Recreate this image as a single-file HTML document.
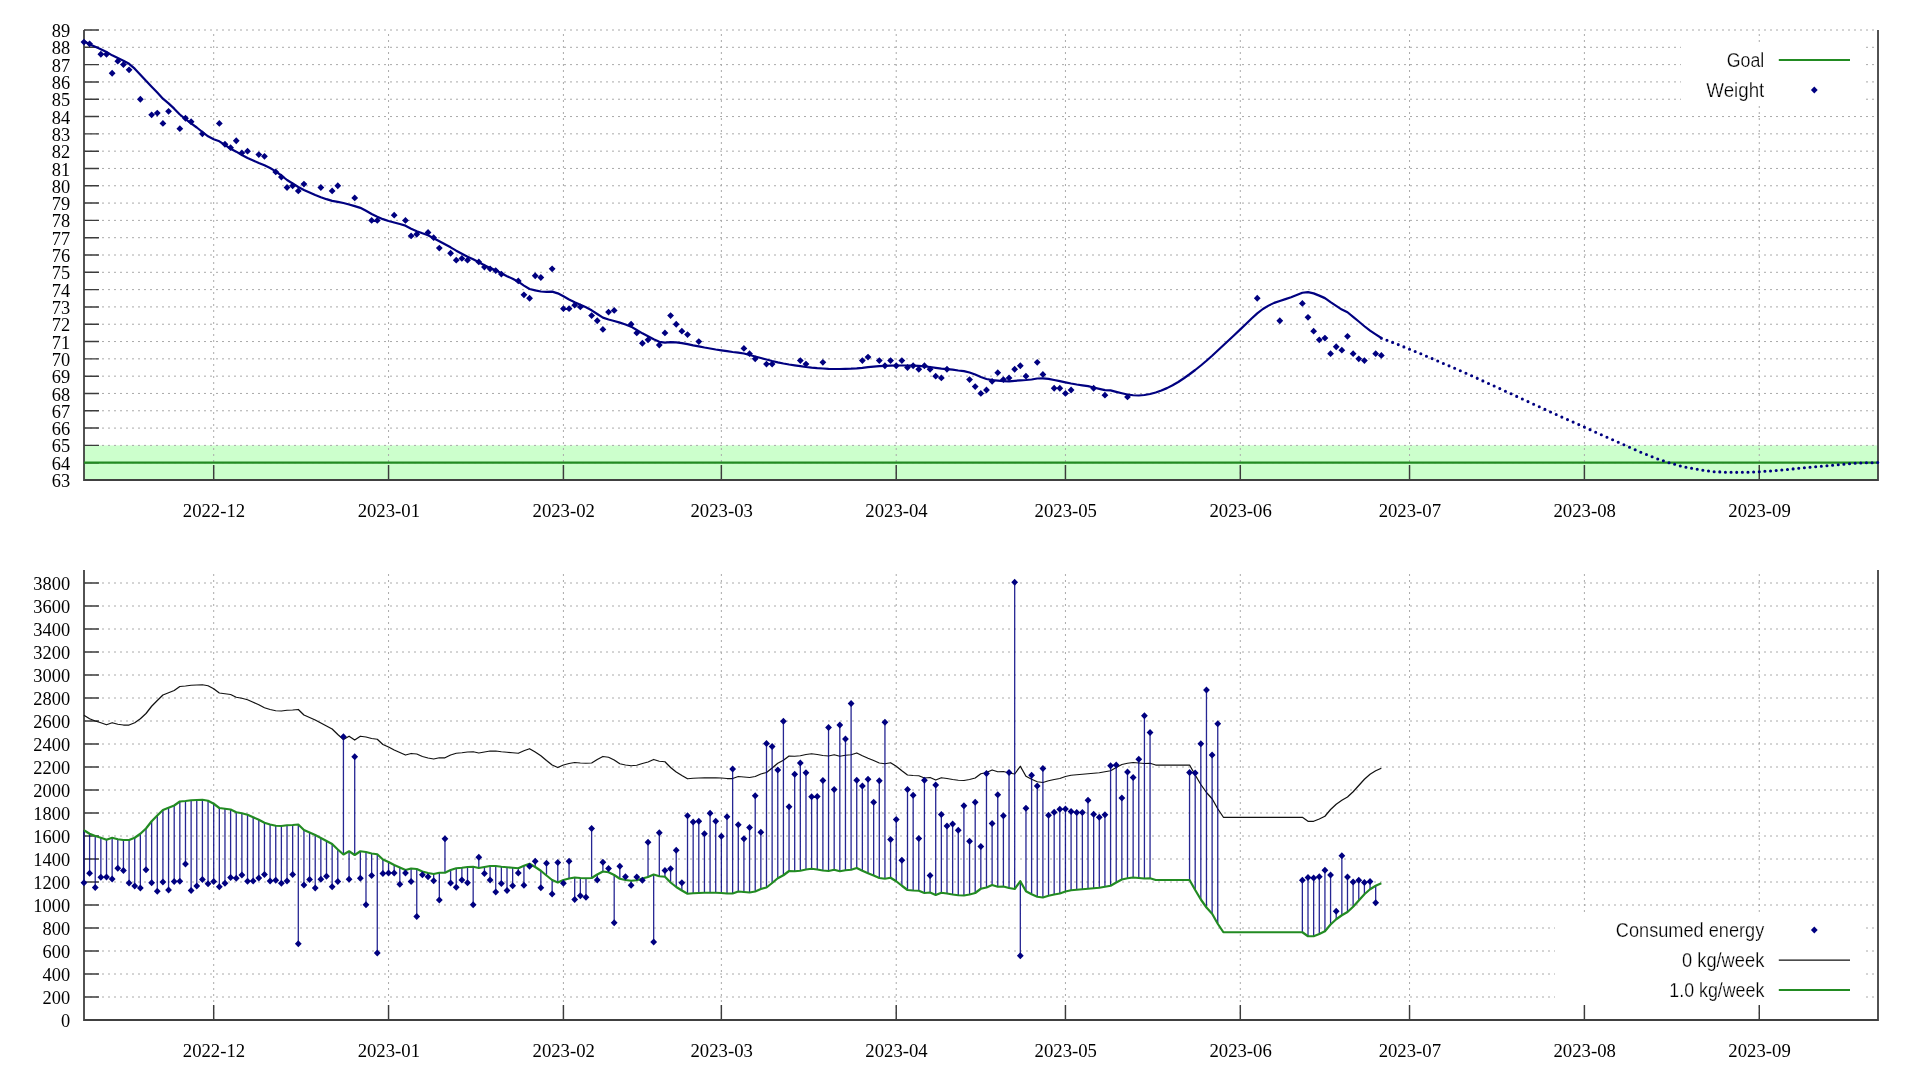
<!DOCTYPE html>
<html><head><meta charset="utf-8"><title>Weight chart</title>
<style>html,body{margin:0;padding:0;background:#fff;overflow:hidden}svg{display:block;will-change:transform}text{font-family:"Liberation Sans",sans-serif;fill:#000}.tk{font-family:"Liberation Serif",serif;font-size:19.2px}.lg{font-family:"Liberation Sans",sans-serif;font-size:19.5px;stroke:#fff;stroke-width:0.25px;paint-order:fill stroke}</style></head><body>
<svg width="1920" height="1080" viewBox="0 0 1920 1080">
<rect width="1920" height="1080" fill="#fff"/>
<rect x="84" y="445.38" width="1794" height="34.62" fill="#ccffcc"/>
<path d="M84 480H1878M84 462.69H1878M84 445.38H1878M84 428.08H1878M84 410.77H1878M84 393.46H1878M84 376.15H1878M84 358.85H1878M84 341.54H1878M84 324.23H1878M84 306.92H1878M84 289.62H1878M84 272.31H1878M84 255H1878M84 237.69H1878M84 220.38H1878M84 203.08H1878M84 185.77H1878M84 168.46H1878M84 151.15H1878M84 133.85H1878M84 116.54H1878M84 99.23H1878M84 81.92H1878M84 64.62H1878M84 47.31H1878M84 30H1878" stroke="#aaaaaa" stroke-width="1" stroke-dasharray="2 4" fill="none"/>
<path d="M213.69 480V30M388.55 480V30M563.42 480V30M721.36 480V30M896.23 480V30M1065.45 480V30M1240.31 480V30M1409.54 480V30M1584.4 480V30M1759.27 480V30" stroke="#aaaaaa" stroke-width="1" stroke-dasharray="2 4" fill="none"/>
<rect x="1681" y="45" width="181.5" height="60" fill="#fff"/>
<path d="M84 480h15M84 462.69h15M84 445.38h15M84 428.08h15M84 410.77h15M84 393.46h15M84 376.15h15M84 358.85h15M84 341.54h15M84 324.23h15M84 306.92h15M84 289.62h15M84 272.31h15M84 255h15M84 237.69h15M84 220.38h15M84 203.08h15M84 185.77h15M84 168.46h15M84 151.15h15M84 133.85h15M84 116.54h15M84 99.23h15M84 81.92h15M84 64.62h15M84 47.31h15M84 30h15M213.69 480v-15M388.55 480v-15M563.42 480v-15M721.36 480v-15M896.23 480v-15M1065.45 480v-15M1240.31 480v-15M1409.54 480v-15M1584.4 480v-15M1759.27 480v-15" stroke="#3c3c3c" stroke-width="1.45" fill="none"/>
<path d="M84 30V480H1878V30" stroke="#404040" stroke-width="1.8" fill="none" stroke-linejoin="miter"/>
<path d="M84 462.69H1878" stroke="#228B22" stroke-width="2.2" fill="none"/>
<path d="M83.95 41.33L89.59 44.17L95.23 46.67L100.87 49.17L106.51 52L112.15 55.33L117.79 58L123.44 60.67L129.08 63.83L134.72 68.67L140.36 74.67L146 80.83L151.64 86.67L157.28 92.5L162.92 98.67L168.56 103.33L174.2 108.67L179.84 114.5L185.48 119.17L191.13 123.33L196.77 127.5L202.41 132L208.05 136.33L213.69 139.17L219.33 141.33L224.97 145L230.61 148.67L236.25 151.67L241.89 155L247.53 158L253.17 160.5L258.81 163L264.46 165.33L270.1 168L275.74 171.33L281.38 175.5L287.02 180L292.66 183.5L298.3 187L303.94 190L309.58 192.5L315.22 195L320.86 197.17L326.5 199.17L332.15 200.83L337.79 201.83L343.43 203L349.07 204.5L354.71 206.17L360.35 207.83L365.99 210.83L371.63 214L377.27 216.67L382.91 219.17L388.55 221L394.19 222.5L399.83 224L405.48 225.67L411.12 228.67L416.76 231.17L422.4 233.33L428.04 235.33L433.68 238.33L439.32 241.33L444.96 244.33L450.6 247.33L456.24 250.67L461.88 253.67L467.52 256.67L473.17 259.33L478.81 262.33L484.45 265.33L490.09 268L495.73 270.33L501.37 273.33L507.01 276.17L512.65 278.67L518.29 281.67L523.93 285.67L529.57 289L535.21 290.33L540.85 291.5L546.5 291.83L552.14 291.67L557.78 293.33L563.42 296.33L569.06 299.5L574.7 302.17L580.34 304.67L585.98 307.33L591.62 310.33L597.26 314L602.9 317.67L608.54 319.5L614.19 321L619.83 322.67L625.47 324.5L631.11 326.67L636.75 330L642.39 333.33L648.03 336.33L653.67 339.33L659.31 341.83L664.95 342.67L670.59 342.17L676.23 342.33L681.87 343.17L687.52 344.17L693.16 345.33L698.8 346.33L704.44 347.5L710.08 348.5L715.72 349.5L721.36 350.33L727 351.17L732.64 352L738.28 352.67L743.92 353.5L749.56 355L755.21 356.5L760.85 358L766.49 359.5L772.13 361L777.77 362.33L783.41 363.5L789.05 364.5L794.69 365.33L800.33 366.17L805.97 367L811.61 367.67L817.25 368.17L822.89 368.5L828.54 368.83L834.18 369L839.82 369L845.46 368.83L851.1 368.67L856.74 368.33L862.38 367.83L868.02 367.17L873.66 366.67L879.3 366.17L884.94 365.83L890.58 365.67L896.23 365.5L901.87 365.5L907.51 365.5L913.15 365.67L918.79 365.83L924.43 366.33L930.07 367L935.71 367.83L941.35 368.67L946.99 369.17L952.63 369.67L958.27 370.5L963.91 371.17L969.56 372.5L975.2 374.5L980.84 377L986.48 379L992.12 380.17L997.76 380.67L1003.4 381.17L1009.04 381.33L1014.68 380.83L1020.32 380.33L1025.96 380L1031.6 379.5L1037.25 378.5L1042.89 378.33L1048.53 378.83L1054.17 380L1059.81 381.17L1065.45 382.33L1071.09 383.5L1076.73 384.5L1082.37 385.33L1088.01 386.17L1093.65 387.5L1099.29 388.83L1104.93 390.17L1110.58 390.38L1116.22 391.88L1121.86 393.25L1127.5 394.5L1133.14 395.25L1138.78 395.5L1144.42 395L1150.06 394L1155.7 392.5L1161.34 390.5L1166.98 388.12L1172.62 385.25L1178.27 382L1183.91 378.25L1189.55 374.25L1195.19 370L1200.83 365.5L1206.47 360.75L1212.11 355.75L1217.75 350.5L1223.39 345.25L1229.03 340L1234.67 334.75L1240.31 329.38L1245.95 324L1251.6 318.5L1257.24 313.38L1262.88 309L1268.52 305.62L1274.16 302.88L1279.8 301L1285.44 299.12L1291.08 297.25L1296.72 295L1302.36 292.75L1308 292.12L1313.64 293.38L1319.29 295.62L1324.93 298.12L1330.57 302.12L1336.21 305.88L1341.85 309.62L1347.49 312.25L1353.13 316.88L1358.77 321.5L1364.41 326.25L1370.05 330.62L1375.69 334.38L1381.33 338" stroke="#000080" stroke-width="2.2" fill="none" stroke-linejoin="round" stroke-linecap="round"/>
<path d="M1381.33 338.3h0M1386.97 340.2h0M1392.62 342.4h0M1398.26 344.6h0M1403.9 346.9h0M1409.54 349.2h0M1415.18 351.5h0M1420.82 353.8h0M1426.46 356.2h0M1432.1 358.6h0M1437.74 361h0M1443.38 363.43h0M1449.02 365.87h0M1454.66 368.3h0M1460.31 370.75h0M1465.95 373.2h0M1471.59 375.77h0M1477.23 378.33h0M1482.87 380.9h0M1488.51 383.45h0M1494.15 386h0M1499.79 388.6h0M1505.43 391.2h0M1511.07 393.8h0M1516.71 396.4h0M1522.35 399h0M1527.99 401.6h0M1533.64 404.2h0M1539.28 406.8h0M1544.92 409.4h0M1550.56 412h0M1556.2 414.55h0M1561.84 417.1h0M1567.48 419.6h0M1573.12 422.1h0M1578.76 424.6h0M1584.4 427.1h0M1590.04 429.65h0M1595.68 432.2h0M1601.33 434.75h0M1606.97 437.3h0M1612.61 439.8h0M1618.25 442.3h0M1623.89 444.8h0M1629.53 447.3h0M1635.17 449.75h0M1640.81 452.2h0M1646.45 454.5h0M1652.09 456.8h0M1657.73 459h0M1663.37 460.8h0M1669.01 462.7h0M1674.66 464.3h0M1680.3 466h0M1685.94 467.3h0M1691.58 468.3h0M1697.22 469.3h0M1702.86 470.3h0M1708.5 471h0M1714.14 471.7h0M1719.78 471.9h0M1725.42 472.2h0M1731.06 472.3h0M1736.7 472.35h0M1742.35 472.3h0M1747.99 472.2h0M1753.63 472h0M1759.27 471.7h0M1764.91 471.3h0M1770.55 471h0M1776.19 470.5h0M1781.83 470h0M1787.47 469.5h0M1793.11 468.9h0M1798.75 468.3h0M1804.39 467.8h0M1810.03 467.3h0M1815.68 466.8h0M1821.32 466.3h0M1826.96 465.8h0M1832.6 465.3h0M1838.24 464.7h0M1843.88 464.2h0M1849.52 463.7h0M1855.16 463.3h0M1860.8 463h0M1866.44 462.8h0M1872.08 462.7h0M1877.72 462.5h0" stroke="#000080" stroke-width="3.1" stroke-linecap="round" fill="none"/>
<path d="M83.95 38.72L87.35 42.12L83.95 45.52L80.55 42.12ZM89.59 40.45L92.99 43.85L89.59 47.25L86.19 43.85ZM100.87 50.83L104.27 54.23L100.87 57.63L97.47 54.23ZM106.51 50.83L109.91 54.23L106.51 57.63L103.11 54.23ZM112.15 69.87L115.55 73.27L112.15 76.67L108.75 73.27ZM117.79 57.75L121.19 61.15L117.79 64.55L114.39 61.15ZM123.44 61.22L126.84 64.62L123.44 68.02L120.04 64.62ZM129.08 66.41L132.48 69.81L129.08 73.21L125.68 69.81ZM140.36 95.83L143.76 99.23L140.36 102.63L136.96 99.23ZM151.64 111.41L155.04 114.81L151.64 118.21L148.24 114.81ZM157.28 109.68L160.68 113.08L157.28 116.48L153.88 113.08ZM162.92 120.06L166.32 123.46L162.92 126.86L159.52 123.46ZM168.56 107.95L171.96 111.35L168.56 114.75L165.16 111.35ZM179.84 125.25L183.24 128.65L179.84 132.05L176.44 128.65ZM185.48 114.87L188.88 118.27L185.48 121.67L182.08 118.27ZM191.13 118.33L194.53 121.73L191.13 125.13L187.73 121.73ZM202.41 130.45L205.81 133.85L202.41 137.25L199.01 133.85ZM219.33 120.06L222.73 123.46L219.33 126.86L215.93 123.46ZM224.97 140.83L228.37 144.23L224.97 147.63L221.57 144.23ZM230.61 144.29L234.01 147.69L230.61 151.09L227.21 147.69ZM236.25 137.37L239.65 140.77L236.25 144.17L232.85 140.77ZM241.89 149.48L245.29 152.88L241.89 156.28L238.49 152.88ZM247.53 147.75L250.93 151.15L247.53 154.55L244.13 151.15ZM258.81 151.22L262.21 154.62L258.81 158.02L255.41 154.62ZM264.46 152.95L267.86 156.35L264.46 159.75L261.06 156.35ZM275.74 168.52L279.14 171.92L275.74 175.32L272.34 171.92ZM281.38 173.72L284.78 177.12L281.38 180.52L277.98 177.12ZM287.02 184.1L290.42 187.5L287.02 190.9L283.62 187.5ZM292.66 182.37L296.06 185.77L292.66 189.17L289.26 185.77ZM298.3 187.56L301.7 190.96L298.3 194.36L294.9 190.96ZM303.94 180.64L307.34 184.04L303.94 187.44L300.54 184.04ZM320.86 184.1L324.26 187.5L320.86 190.9L317.46 187.5ZM332.15 187.56L335.55 190.96L332.15 194.36L328.75 190.96ZM337.79 182.37L341.19 185.77L337.79 189.17L334.39 185.77ZM354.71 194.48L358.11 197.88L354.71 201.28L351.31 197.88ZM371.63 216.98L375.03 220.38L371.63 223.78L368.23 220.38ZM377.27 216.98L380.67 220.38L377.27 223.78L373.87 220.38ZM394.19 211.79L397.59 215.19L394.19 218.59L390.79 215.19ZM405.48 216.98L408.88 220.38L405.48 223.78L402.08 220.38ZM411.12 232.56L414.52 235.96L411.12 239.36L407.72 235.96ZM416.76 230.83L420.16 234.23L416.76 237.63L413.36 234.23ZM428.04 229.1L431.44 232.5L428.04 235.9L424.64 232.5ZM433.68 234.29L437.08 237.69L433.68 241.09L430.28 237.69ZM439.32 244.68L442.72 248.08L439.32 251.48L435.92 248.08ZM450.6 249.87L454 253.27L450.6 256.67L447.2 253.27ZM456.24 256.79L459.64 260.19L456.24 263.59L452.84 260.19ZM461.88 255.06L465.28 258.46L461.88 261.86L458.48 258.46ZM467.52 256.79L470.92 260.19L467.52 263.59L464.12 260.19ZM478.81 258.52L482.21 261.92L478.81 265.32L475.41 261.92ZM484.45 263.72L487.85 267.12L484.45 270.52L481.05 267.12ZM490.09 265.45L493.49 268.85L490.09 272.25L486.69 268.85ZM495.73 267.18L499.13 270.58L495.73 273.98L492.33 270.58ZM501.37 270.64L504.77 274.04L501.37 277.44L497.97 274.04ZM518.29 277.56L521.69 280.96L518.29 284.36L514.89 280.96ZM523.93 291.41L527.33 294.81L523.93 298.21L520.53 294.81ZM529.57 294.87L532.97 298.27L529.57 301.67L526.17 298.27ZM535.21 272.37L538.61 275.77L535.21 279.17L531.81 275.77ZM540.85 274.1L544.25 277.5L540.85 280.9L537.45 277.5ZM552.14 265.45L555.54 268.85L552.14 272.25L548.74 268.85ZM563.42 305.25L566.82 308.65L563.42 312.05L560.02 308.65ZM569.06 305.25L572.46 308.65L569.06 312.05L565.66 308.65ZM574.7 301.79L578.1 305.19L574.7 308.59L571.3 305.19ZM580.34 303.52L583.74 306.92L580.34 310.32L576.94 306.92ZM591.62 312.18L595.02 315.58L591.62 318.98L588.22 315.58ZM597.26 317.37L600.66 320.77L597.26 324.17L593.86 320.77ZM602.9 326.02L606.3 329.42L602.9 332.82L599.5 329.42ZM608.54 308.72L611.94 312.12L608.54 315.52L605.14 312.12ZM614.19 306.98L617.59 310.38L614.19 313.78L610.79 310.38ZM631.11 320.83L634.51 324.23L631.11 327.63L627.71 324.23ZM636.75 329.48L640.15 332.88L636.75 336.28L633.35 332.88ZM642.39 339.87L645.79 343.27L642.39 346.67L638.99 343.27ZM648.03 336.41L651.43 339.81L648.03 343.21L644.63 339.81ZM659.31 341.6L662.71 345L659.31 348.4L655.91 345ZM664.95 329.48L668.35 332.88L664.95 336.28L661.55 332.88ZM670.59 312.18L673.99 315.58L670.59 318.98L667.19 315.58ZM676.23 320.83L679.63 324.23L676.23 327.63L672.83 324.23ZM681.87 327.75L685.27 331.15L681.87 334.55L678.47 331.15ZM687.52 331.22L690.92 334.62L687.52 338.02L684.12 334.62ZM698.8 338.14L702.2 341.54L698.8 344.94L695.4 341.54ZM743.92 345.06L747.32 348.46L743.92 351.86L740.52 348.46ZM749.56 350.25L752.96 353.65L749.56 357.05L746.16 353.65ZM755.21 355.45L758.61 358.85L755.21 362.25L751.81 358.85ZM766.49 360.64L769.89 364.04L766.49 367.44L763.09 364.04ZM772.13 360.64L775.53 364.04L772.13 367.44L768.73 364.04ZM800.33 357.18L803.73 360.58L800.33 363.98L796.93 360.58ZM805.97 360.64L809.37 364.04L805.97 367.44L802.57 364.04ZM822.89 358.91L826.29 362.31L822.89 365.71L819.49 362.31ZM862.38 357.18L865.78 360.58L862.38 363.98L858.98 360.58ZM868.02 353.72L871.42 357.12L868.02 360.52L864.62 357.12ZM879.3 357.18L882.7 360.58L879.3 363.98L875.9 360.58ZM884.94 362.37L888.34 365.77L884.94 369.17L881.54 365.77ZM890.58 357.18L893.98 360.58L890.58 363.98L887.18 360.58ZM896.23 362.37L899.63 365.77L896.23 369.17L892.83 365.77ZM901.87 357.18L905.27 360.58L901.87 363.98L898.47 360.58ZM907.51 364.1L910.91 367.5L907.51 370.9L904.11 367.5ZM913.15 362.37L916.55 365.77L913.15 369.17L909.75 365.77ZM918.79 365.83L922.19 369.23L918.79 372.63L915.39 369.23ZM924.43 362.37L927.83 365.77L924.43 369.17L921.03 365.77ZM930.07 365.83L933.47 369.23L930.07 372.63L926.67 369.23ZM935.71 372.75L939.11 376.15L935.71 379.55L932.31 376.15ZM941.35 374.48L944.75 377.88L941.35 381.28L937.95 377.88ZM946.99 365.83L950.39 369.23L946.99 372.63L943.59 369.23ZM969.56 376.22L972.96 379.62L969.56 383.02L966.16 379.62ZM975.2 383.14L978.6 386.54L975.2 389.94L971.8 386.54ZM980.84 390.06L984.24 393.46L980.84 396.86L977.44 393.46ZM986.48 386.6L989.88 390L986.48 393.4L983.08 390ZM992.12 377.95L995.52 381.35L992.12 384.75L988.72 381.35ZM997.76 369.29L1001.16 372.69L997.76 376.09L994.36 372.69ZM1003.4 376.22L1006.8 379.62L1003.4 383.02L1000 379.62ZM1009.04 374.48L1012.44 377.88L1009.04 381.28L1005.64 377.88ZM1014.68 365.83L1018.08 369.23L1014.68 372.63L1011.28 369.23ZM1020.32 362.37L1023.72 365.77L1020.32 369.17L1016.92 365.77ZM1025.96 372.75L1029.36 376.15L1025.96 379.55L1022.56 376.15ZM1037.25 358.91L1040.65 362.31L1037.25 365.71L1033.85 362.31ZM1042.89 371.02L1046.29 374.42L1042.89 377.82L1039.49 374.42ZM1054.17 384.87L1057.57 388.27L1054.17 391.67L1050.77 388.27ZM1059.81 384.87L1063.21 388.27L1059.81 391.67L1056.41 388.27ZM1065.45 390.06L1068.85 393.46L1065.45 396.86L1062.05 393.46ZM1071.09 386.6L1074.49 390L1071.09 393.4L1067.69 390ZM1093.65 384.87L1097.05 388.27L1093.65 391.67L1090.25 388.27ZM1104.93 391.79L1108.33 395.19L1104.93 398.59L1101.53 395.19ZM1127.5 393.52L1130.9 396.92L1127.5 400.32L1124.1 396.92ZM1257.24 294.87L1260.64 298.27L1257.24 301.67L1253.84 298.27ZM1279.8 317.37L1283.2 320.77L1279.8 324.17L1276.4 320.77ZM1302.36 300.06L1305.76 303.46L1302.36 306.86L1298.96 303.46ZM1308 313.91L1311.4 317.31L1308 320.71L1304.6 317.31ZM1313.64 327.75L1317.04 331.15L1313.64 334.55L1310.24 331.15ZM1319.29 336.41L1322.69 339.81L1319.29 343.21L1315.89 339.81ZM1324.93 334.68L1328.33 338.08L1324.93 341.48L1321.53 338.08ZM1330.57 350.25L1333.97 353.65L1330.57 357.05L1327.17 353.65ZM1336.21 343.33L1339.61 346.73L1336.21 350.13L1332.81 346.73ZM1341.85 346.79L1345.25 350.19L1341.85 353.59L1338.45 350.19ZM1347.49 332.95L1350.89 336.35L1347.49 339.75L1344.09 336.35ZM1353.13 350.25L1356.53 353.65L1353.13 357.05L1349.73 353.65ZM1358.77 355.45L1362.17 358.85L1358.77 362.25L1355.37 358.85ZM1364.41 357.18L1367.81 360.58L1364.41 363.98L1361.01 360.58ZM1375.69 350.25L1379.09 353.65L1375.69 357.05L1372.29 353.65ZM1381.33 351.98L1384.73 355.38L1381.33 358.78L1377.93 355.38Z" fill="#000080"/>
<text class="tk" x="70.1" y="487.1" text-anchor="end" textLength="18.4" lengthAdjust="spacingAndGlyphs">63</text>
<text class="tk" x="70.1" y="469.79" text-anchor="end" textLength="18.4" lengthAdjust="spacingAndGlyphs">64</text>
<text class="tk" x="70.1" y="452.48" text-anchor="end" textLength="18.4" lengthAdjust="spacingAndGlyphs">65</text>
<text class="tk" x="70.1" y="435.18" text-anchor="end" textLength="18.4" lengthAdjust="spacingAndGlyphs">66</text>
<text class="tk" x="70.1" y="417.87" text-anchor="end" textLength="18.4" lengthAdjust="spacingAndGlyphs">67</text>
<text class="tk" x="70.1" y="400.56" text-anchor="end" textLength="18.4" lengthAdjust="spacingAndGlyphs">68</text>
<text class="tk" x="70.1" y="383.25" text-anchor="end" textLength="18.4" lengthAdjust="spacingAndGlyphs">69</text>
<text class="tk" x="70.1" y="365.95" text-anchor="end" textLength="18.4" lengthAdjust="spacingAndGlyphs">70</text>
<text class="tk" x="70.1" y="348.64" text-anchor="end" textLength="18.4" lengthAdjust="spacingAndGlyphs">71</text>
<text class="tk" x="70.1" y="331.33" text-anchor="end" textLength="18.4" lengthAdjust="spacingAndGlyphs">72</text>
<text class="tk" x="70.1" y="314.02" text-anchor="end" textLength="18.4" lengthAdjust="spacingAndGlyphs">73</text>
<text class="tk" x="70.1" y="296.72" text-anchor="end" textLength="18.4" lengthAdjust="spacingAndGlyphs">74</text>
<text class="tk" x="70.1" y="279.41" text-anchor="end" textLength="18.4" lengthAdjust="spacingAndGlyphs">75</text>
<text class="tk" x="70.1" y="262.1" text-anchor="end" textLength="18.4" lengthAdjust="spacingAndGlyphs">76</text>
<text class="tk" x="70.1" y="244.79" text-anchor="end" textLength="18.4" lengthAdjust="spacingAndGlyphs">77</text>
<text class="tk" x="70.1" y="227.48" text-anchor="end" textLength="18.4" lengthAdjust="spacingAndGlyphs">78</text>
<text class="tk" x="70.1" y="210.18" text-anchor="end" textLength="18.4" lengthAdjust="spacingAndGlyphs">79</text>
<text class="tk" x="70.1" y="192.87" text-anchor="end" textLength="18.4" lengthAdjust="spacingAndGlyphs">80</text>
<text class="tk" x="70.1" y="175.56" text-anchor="end" textLength="18.4" lengthAdjust="spacingAndGlyphs">81</text>
<text class="tk" x="70.1" y="158.25" text-anchor="end" textLength="18.4" lengthAdjust="spacingAndGlyphs">82</text>
<text class="tk" x="70.1" y="140.95" text-anchor="end" textLength="18.4" lengthAdjust="spacingAndGlyphs">83</text>
<text class="tk" x="70.1" y="123.64" text-anchor="end" textLength="18.4" lengthAdjust="spacingAndGlyphs">84</text>
<text class="tk" x="70.1" y="106.33" text-anchor="end" textLength="18.4" lengthAdjust="spacingAndGlyphs">85</text>
<text class="tk" x="70.1" y="89.02" text-anchor="end" textLength="18.4" lengthAdjust="spacingAndGlyphs">86</text>
<text class="tk" x="70.1" y="71.72" text-anchor="end" textLength="18.4" lengthAdjust="spacingAndGlyphs">87</text>
<text class="tk" x="70.1" y="54.41" text-anchor="end" textLength="18.4" lengthAdjust="spacingAndGlyphs">88</text>
<text class="tk" x="70.1" y="37.1" text-anchor="end" textLength="18.4" lengthAdjust="spacingAndGlyphs">89</text>
<text class="tk" x="213.99" y="517" text-anchor="middle" textLength="62.4" lengthAdjust="spacingAndGlyphs">2022-12</text>
<text class="tk" x="388.85" y="517" text-anchor="middle" textLength="62.4" lengthAdjust="spacingAndGlyphs">2023-01</text>
<text class="tk" x="563.72" y="517" text-anchor="middle" textLength="62.4" lengthAdjust="spacingAndGlyphs">2023-02</text>
<text class="tk" x="721.66" y="517" text-anchor="middle" textLength="62.4" lengthAdjust="spacingAndGlyphs">2023-03</text>
<text class="tk" x="896.53" y="517" text-anchor="middle" textLength="62.4" lengthAdjust="spacingAndGlyphs">2023-04</text>
<text class="tk" x="1065.75" y="517" text-anchor="middle" textLength="62.4" lengthAdjust="spacingAndGlyphs">2023-05</text>
<text class="tk" x="1240.61" y="517" text-anchor="middle" textLength="62.4" lengthAdjust="spacingAndGlyphs">2023-06</text>
<text class="tk" x="1409.84" y="517" text-anchor="middle" textLength="62.4" lengthAdjust="spacingAndGlyphs">2023-07</text>
<text class="tk" x="1584.7" y="517" text-anchor="middle" textLength="62.4" lengthAdjust="spacingAndGlyphs">2023-08</text>
<text class="tk" x="1759.57" y="517" text-anchor="middle" textLength="62.4" lengthAdjust="spacingAndGlyphs">2023-09</text>
<text class="lg" x="1764.3" y="67" text-anchor="end" textLength="37.5" lengthAdjust="spacingAndGlyphs">Goal</text>
<path d="M1778.8 60H1850" stroke="#228B22" stroke-width="2.2"/>
<text class="lg" x="1764.3" y="96.6" text-anchor="end" textLength="58" lengthAdjust="spacingAndGlyphs">Weight</text>
<path d="M1814.3 86.6L1817.7 90L1814.3 93.4L1810.9 90Z" fill="#000080"/>
<path d="M84 1020H1878M84 997H1878M84 974H1878M84 951H1878M84 928H1878M84 905H1878M84 882H1878M84 859H1878M84 836H1878M84 813H1878M84 790H1878M84 767H1878M84 744H1878M84 721H1878M84 698H1878M84 675H1878M84 652H1878M84 629H1878M84 606H1878M84 583H1878" stroke="#aaaaaa" stroke-width="1" stroke-dasharray="2 4" fill="none"/>
<path d="M213.69 1020V570M388.55 1020V570M563.42 1020V570M721.36 1020V570M896.23 1020V570M1065.45 1020V570M1240.31 1020V570M1409.54 1020V570M1584.4 1020V570M1759.27 1020V570" stroke="#aaaaaa" stroke-width="1" stroke-dasharray="2 4" fill="none"/>
<rect x="1555" y="915" width="307.5" height="90" fill="#fff"/>
<path d="M84 1020h15M84 997h15M84 974h15M84 951h15M84 928h15M84 905h15M84 882h15M84 859h15M84 836h15M84 813h15M84 790h15M84 767h15M84 744h15M84 721h15M84 698h15M84 675h15M84 652h15M84 629h15M84 606h15M84 583h15M213.69 1020v-15M388.55 1020v-15M563.42 1020v-15M721.36 1020v-15M896.23 1020v-15M1065.45 1020v-15M1240.31 1020v-15M1409.54 1020v-15M1584.4 1020v-15M1759.27 1020v-15" stroke="#3c3c3c" stroke-width="1.45" fill="none"/>
<path d="M84 570V1020H1878V570" stroke="#404040" stroke-width="1.8" fill="none" stroke-linejoin="miter"/>
<path d="M83.95 715.25L89.59 718.75L95.23 721L100.87 722.75L106.51 724.75L112.15 722.75L117.79 724.25L123.44 725L129.08 725L134.72 722.75L140.36 718.75L146 713.5L151.64 706.25L157.28 700.5L162.92 695L168.56 692.75L174.2 690.5L179.84 686.5L185.48 686L191.13 685.25L196.77 685L202.41 684.75L208.05 685.75L213.69 688.75L219.33 693L224.97 693.75L230.61 694.5L236.25 697.25L241.89 698.25L247.53 699.75L253.17 702.25L258.81 704.75L264.46 707.75L270.1 709.5L275.74 710.75L281.38 711L287.02 710.25L292.66 710L298.3 709.5L303.94 715L309.58 717.5L315.22 720L320.86 723L326.5 726L332.15 729L337.79 734.5L343.43 739.5L349.07 736.25L354.71 740L360.35 736.25L365.99 737L371.63 738.5L377.27 739.25L382.91 744.5L388.55 747L394.19 750L399.83 752.5L405.48 755L411.12 753.5L416.76 754L422.4 756.5L428.04 758L433.68 759L439.32 757.75L444.96 757.75L450.6 755L456.24 753.25L461.88 752.75L467.52 752L473.17 751.75L478.81 753L484.45 752L490.09 751L495.73 751L501.37 751.75L507.01 752.25L512.65 752.75L518.29 753.25L523.93 750.75L529.57 748.75L535.21 752L540.85 755.75L546.5 760.5L552.14 765L557.78 767.5L563.42 765L569.06 763.5L574.7 762.5L580.34 763L585.98 763.25L591.62 763L597.26 759.5L602.9 756.5L608.54 757.25L614.19 760L619.83 763.75L625.47 765L631.11 765.75L636.75 765.25L642.39 763.5L648.03 762L653.67 759.5L659.31 761.25L664.95 761.75L670.59 767.5L676.23 772L681.87 775.5L687.52 778.75L693.16 778.25L698.8 778L704.44 777.75L710.08 777.75L715.72 777.75L721.36 778L727 778.5L732.64 778.5L738.28 776.5L743.92 777L749.56 777.5L755.21 776.5L760.85 774L766.49 772.5L772.13 768L777.77 763.25L783.41 760.25L789.05 756L794.69 756.25L800.33 755.75L805.97 754.5L811.61 753.75L817.25 754.5L822.89 755.5L828.54 756L834.18 754.75L839.82 756.25L845.46 755.25L851.1 754.75L856.74 753L862.38 755.75L868.02 758.25L873.66 760.5L879.3 763L884.94 763.75L890.58 762.75L896.23 766.25L901.87 770.75L907.51 775L913.15 775.5L918.79 775.75L924.43 778L930.07 777.5L935.71 780L941.35 777.75L946.99 778.5L952.63 779.5L958.27 780.25L963.91 780.5L969.56 779.5L975.2 778L980.84 773.75L986.48 772.5L992.12 770L997.76 771.75L1003.4 771.5L1009.04 773L1014.68 774L1020.32 766.25L1025.96 776.25L1031.6 779.25L1037.25 781.75L1042.89 782.5L1048.53 780.75L1054.17 779.5L1059.81 778.5L1065.45 776.5L1071.09 775.25L1076.73 774.75L1082.37 774.25L1088.01 773.75L1093.65 773.25L1099.29 772.75L1104.93 771.75L1110.58 770.75L1116.22 767.5L1121.86 764.5L1127.5 763.25L1133.14 762.5L1138.78 763L1144.42 763.5L1150.06 763.25L1155.7 765L1161.34 765L1166.98 765L1172.62 765L1178.27 765L1183.91 765L1189.55 765L1195.19 775L1200.83 784.5L1206.47 792.5L1212.11 798.75L1217.75 808.75L1223.39 817.25L1229.03 817.25L1234.67 817.25L1240.31 817.25L1245.95 817.25L1251.6 817.25L1257.24 817.25L1262.88 817.25L1268.52 817.25L1274.16 817.25L1279.8 817.25L1285.44 817.25L1291.08 817.25L1296.72 817.25L1302.36 817.25L1308 821.25L1313.64 821.25L1319.29 819L1324.93 816.25L1330.57 809.5L1336.21 804.25L1341.85 800.25L1347.49 797L1353.13 791.75L1358.77 785.5L1364.41 779.25L1370.05 774.25L1375.69 770.75L1381.33 768.25" stroke="#111" stroke-width="1.25" fill="none" stroke-linejoin="round"/>
<path d="M83.95 830.25V882.75M89.59 833.75V873.25M95.23 836V887.5M100.87 837.75V877.25M106.51 839.75V877M112.15 837.75V879M117.79 839.25V868.25M123.44 840V870.5M129.08 840V883M134.72 837.75V886M140.36 833.75V888M146 828.5V869.75M151.64 821.25V882.75M157.28 815.5V891.25M162.92 810V882M168.56 807.75V890M174.2 805.5V881.5M179.84 801.5V881.25M185.48 801V864M191.13 800.25V890.5M196.77 800V886M202.41 799.75V879.5M208.05 800.75V883.75M213.69 803.75V881.5M219.33 808V886.75M224.97 808.75V883.25M230.61 809.5V877.5M236.25 812.25V878.25M241.89 813.25V875M247.53 814.75V881.25M253.17 817.25V881M258.81 819.75V878M264.46 822.75V874.5M270.1 824.5V881M275.74 825.75V880.25M281.38 826V883.25M287.02 825.25V881M292.66 825V874.5M298.3 824.5V943.75M303.94 830V885M309.58 832.5V879.5M315.22 835V888M320.86 838V879.25M326.5 841V876.25M332.15 844V886.75M337.79 849.5V881.5M343.43 854.5V736.75M349.07 851.25V879.25M354.71 855V756.75M360.35 851.25V878.25M365.99 852V904.75M371.63 853.5V875.5M377.27 854.25V953M382.91 859.5V873.5M388.55 862V873M394.19 865V873M399.83 867.5V884.25M405.48 870V873M411.12 868.5V881.5M416.76 869V916.5M422.4 871.5V874.75M428.04 873V876.75M433.68 874V880.75M439.32 872.75V900M444.96 872.75V838.75M450.6 870V883M456.24 868.25V887.25M461.88 867.75V880M467.52 867V882.75M473.17 866.75V904.75M478.81 868V857.25M484.45 867V873.5M490.09 866V880M495.73 866V892M501.37 866.75V883.5M507.01 867.25V890.5M512.65 867.75V885.75M518.29 868.25V873M523.93 865.75V885.25M529.57 863.75V866.25M535.21 867V861.25M540.85 870.75V887.75M546.5 875.5V863.25M552.14 880V894M557.78 882.5V862.5M563.42 880V883.25M569.06 878.5V861.25M574.7 877.5V899.5M580.34 878V895.75M585.98 878.25V897.25M591.62 878V828.5M597.26 874.5V880M602.9 871.5V862.25M608.54 872.25V868.5M614.19 875V922.75M619.83 878.75V866.25M625.47 880V876.75M631.11 880.75V885.25M636.75 880.25V877M642.39 878.5V880.25M648.03 877V842.25M653.67 874.5V942M659.31 876.25V832.75M664.95 876.75V870.5M670.59 882.5V868.75M676.23 887V850.25M681.87 890.5V882.75M687.52 893.75V815.75M693.16 893.25V822M698.8 893V821.25M704.44 892.75V833.75M710.08 892.75V813.25M715.72 892.75V821.25M721.36 893V836.25M727 893.5V816.75M732.64 893.5V769M738.28 891.5V824.75M743.92 892V838.75M749.56 892.5V827.5M755.21 891.5V795.75M760.85 889V832.25M766.49 887.5V743.5M772.13 883V746.5M777.77 878.25V770M783.41 875.25V721.25M789.05 871V806.75M794.69 871.25V774.25M800.33 870.75V763M805.97 869.5V772.75M811.61 868.75V796.75M817.25 869.5V796.5M822.89 870.5V780.5M828.54 871V727.5M834.18 869.75V789.5M839.82 871.25V725M845.46 870.25V739M851.1 869.75V703.5M856.74 868V780.25M862.38 870.75V786M868.02 873.25V779.25M873.66 875.5V802.25M879.3 878V780.75M884.94 878.75V722.25M890.58 877.75V839.5M896.23 881.25V819.5M901.87 885.75V860.25M907.51 890V789.5M913.15 890.5V795.25M918.79 890.75V838.5M924.43 893V780.25M930.07 892.5V875.5M935.71 895V785M941.35 892.75V814.5M946.99 893.5V826M952.63 894.5V824M958.27 895.25V830.25M963.91 895.5V805.75M969.56 894.5V841.25M975.2 893V802.25M980.84 888.75V846.5M986.48 887.5V773.5M992.12 885V823.5M997.76 886.75V794.75M1003.4 886.5V815.75M1009.04 888V772.5M1014.68 889V582.25M1020.32 881.25V955.75M1025.96 891.25V808.25M1031.6 894.25V775.25M1037.25 896.75V786M1042.89 897.5V768.5M1048.53 895.75V815.25M1054.17 894.5V812.25M1059.81 893.5V809.25M1065.45 891.5V809M1071.09 890.25V811.5M1076.73 889.75V812.5M1082.37 889.25V812.5M1088.01 888.75V800.25M1093.65 888.25V814.25M1099.29 887.75V817.25M1104.93 886.75V814.75M1110.58 885.75V765.75M1116.22 882.5V765M1121.86 879.5V798M1127.5 878.25V772M1133.14 877.5V777.5M1138.78 878V759.25M1144.42 878.5V715.75M1150.06 878.25V732.5M1189.55 880V772.5M1195.19 890V773M1200.83 899.5V743.75M1206.47 907.5V690M1212.11 913.75V755M1217.75 923.75V723.75M1302.36 932.25V880.25M1308 936.25V877.5M1313.64 936.25V878M1319.29 934V876.75M1324.93 931.25V870.25M1330.57 924.5V875M1336.21 919.25V911.25M1341.85 915.25V855.75M1347.49 912V877M1353.13 906.75V882M1358.77 900.5V880.25M1364.41 894.25V882.5M1370.05 889.25V881.5M1375.69 885.75V902.75" stroke="#000080" stroke-width="1.3" stroke-opacity="0.85" fill="none"/>
<path d="M83.95 830.25L89.59 833.75L95.23 836L100.87 837.75L106.51 839.75L112.15 837.75L117.79 839.25L123.44 840L129.08 840L134.72 837.75L140.36 833.75L146 828.5L151.64 821.25L157.28 815.5L162.92 810L168.56 807.75L174.2 805.5L179.84 801.5L185.48 801L191.13 800.25L196.77 800L202.41 799.75L208.05 800.75L213.69 803.75L219.33 808L224.97 808.75L230.61 809.5L236.25 812.25L241.89 813.25L247.53 814.75L253.17 817.25L258.81 819.75L264.46 822.75L270.1 824.5L275.74 825.75L281.38 826L287.02 825.25L292.66 825L298.3 824.5L303.94 830L309.58 832.5L315.22 835L320.86 838L326.5 841L332.15 844L337.79 849.5L343.43 854.5L349.07 851.25L354.71 855L360.35 851.25L365.99 852L371.63 853.5L377.27 854.25L382.91 859.5L388.55 862L394.19 865L399.83 867.5L405.48 870L411.12 868.5L416.76 869L422.4 871.5L428.04 873L433.68 874L439.32 872.75L444.96 872.75L450.6 870L456.24 868.25L461.88 867.75L467.52 867L473.17 866.75L478.81 868L484.45 867L490.09 866L495.73 866L501.37 866.75L507.01 867.25L512.65 867.75L518.29 868.25L523.93 865.75L529.57 863.75L535.21 867L540.85 870.75L546.5 875.5L552.14 880L557.78 882.5L563.42 880L569.06 878.5L574.7 877.5L580.34 878L585.98 878.25L591.62 878L597.26 874.5L602.9 871.5L608.54 872.25L614.19 875L619.83 878.75L625.47 880L631.11 880.75L636.75 880.25L642.39 878.5L648.03 877L653.67 874.5L659.31 876.25L664.95 876.75L670.59 882.5L676.23 887L681.87 890.5L687.52 893.75L693.16 893.25L698.8 893L704.44 892.75L710.08 892.75L715.72 892.75L721.36 893L727 893.5L732.64 893.5L738.28 891.5L743.92 892L749.56 892.5L755.21 891.5L760.85 889L766.49 887.5L772.13 883L777.77 878.25L783.41 875.25L789.05 871L794.69 871.25L800.33 870.75L805.97 869.5L811.61 868.75L817.25 869.5L822.89 870.5L828.54 871L834.18 869.75L839.82 871.25L845.46 870.25L851.1 869.75L856.74 868L862.38 870.75L868.02 873.25L873.66 875.5L879.3 878L884.94 878.75L890.58 877.75L896.23 881.25L901.87 885.75L907.51 890L913.15 890.5L918.79 890.75L924.43 893L930.07 892.5L935.71 895L941.35 892.75L946.99 893.5L952.63 894.5L958.27 895.25L963.91 895.5L969.56 894.5L975.2 893L980.84 888.75L986.48 887.5L992.12 885L997.76 886.75L1003.4 886.5L1009.04 888L1014.68 889L1020.32 881.25L1025.96 891.25L1031.6 894.25L1037.25 896.75L1042.89 897.5L1048.53 895.75L1054.17 894.5L1059.81 893.5L1065.45 891.5L1071.09 890.25L1076.73 889.75L1082.37 889.25L1088.01 888.75L1093.65 888.25L1099.29 887.75L1104.93 886.75L1110.58 885.75L1116.22 882.5L1121.86 879.5L1127.5 878.25L1133.14 877.5L1138.78 878L1144.42 878.5L1150.06 878.25L1155.7 880L1161.34 880L1166.98 880L1172.62 880L1178.27 880L1183.91 880L1189.55 880L1195.19 890L1200.83 899.5L1206.47 907.5L1212.11 913.75L1217.75 923.75L1223.39 932.25L1229.03 932.25L1234.67 932.25L1240.31 932.25L1245.95 932.25L1251.6 932.25L1257.24 932.25L1262.88 932.25L1268.52 932.25L1274.16 932.25L1279.8 932.25L1285.44 932.25L1291.08 932.25L1296.72 932.25L1302.36 932.25L1308 936.25L1313.64 936.25L1319.29 934L1324.93 931.25L1330.57 924.5L1336.21 919.25L1341.85 915.25L1347.49 912L1353.13 906.75L1358.77 900.5L1364.41 894.25L1370.05 889.25L1375.69 885.75L1381.33 883.25" stroke="#228B22" stroke-width="2.2" fill="none" stroke-linejoin="round"/>
<path d="M83.95 879.35L87.35 882.75L83.95 886.15L80.55 882.75ZM89.59 869.85L92.99 873.25L89.59 876.65L86.19 873.25ZM95.23 884.1L98.63 887.5L95.23 890.9L91.83 887.5ZM100.87 873.85L104.27 877.25L100.87 880.65L97.47 877.25ZM106.51 873.6L109.91 877L106.51 880.4L103.11 877ZM112.15 875.6L115.55 879L112.15 882.4L108.75 879ZM117.79 864.85L121.19 868.25L117.79 871.65L114.39 868.25ZM123.44 867.1L126.84 870.5L123.44 873.9L120.04 870.5ZM129.08 879.6L132.48 883L129.08 886.4L125.68 883ZM134.72 882.6L138.12 886L134.72 889.4L131.32 886ZM140.36 884.6L143.76 888L140.36 891.4L136.96 888ZM146 866.35L149.4 869.75L146 873.15L142.6 869.75ZM151.64 879.35L155.04 882.75L151.64 886.15L148.24 882.75ZM157.28 887.85L160.68 891.25L157.28 894.65L153.88 891.25ZM162.92 878.6L166.32 882L162.92 885.4L159.52 882ZM168.56 886.6L171.96 890L168.56 893.4L165.16 890ZM174.2 878.1L177.6 881.5L174.2 884.9L170.8 881.5ZM179.84 877.85L183.24 881.25L179.84 884.65L176.44 881.25ZM185.48 860.6L188.88 864L185.48 867.4L182.08 864ZM191.13 887.1L194.53 890.5L191.13 893.9L187.73 890.5ZM196.77 882.6L200.17 886L196.77 889.4L193.37 886ZM202.41 876.1L205.81 879.5L202.41 882.9L199.01 879.5ZM208.05 880.35L211.45 883.75L208.05 887.15L204.65 883.75ZM213.69 878.1L217.09 881.5L213.69 884.9L210.29 881.5ZM219.33 883.35L222.73 886.75L219.33 890.15L215.93 886.75ZM224.97 879.85L228.37 883.25L224.97 886.65L221.57 883.25ZM230.61 874.1L234.01 877.5L230.61 880.9L227.21 877.5ZM236.25 874.85L239.65 878.25L236.25 881.65L232.85 878.25ZM241.89 871.6L245.29 875L241.89 878.4L238.49 875ZM247.53 877.85L250.93 881.25L247.53 884.65L244.13 881.25ZM253.17 877.6L256.57 881L253.17 884.4L249.77 881ZM258.81 874.6L262.21 878L258.81 881.4L255.41 878ZM264.46 871.1L267.86 874.5L264.46 877.9L261.06 874.5ZM270.1 877.6L273.5 881L270.1 884.4L266.7 881ZM275.74 876.85L279.14 880.25L275.74 883.65L272.34 880.25ZM281.38 879.85L284.78 883.25L281.38 886.65L277.98 883.25ZM287.02 877.6L290.42 881L287.02 884.4L283.62 881ZM292.66 871.1L296.06 874.5L292.66 877.9L289.26 874.5ZM298.3 940.35L301.7 943.75L298.3 947.15L294.9 943.75ZM303.94 881.6L307.34 885L303.94 888.4L300.54 885ZM309.58 876.1L312.98 879.5L309.58 882.9L306.18 879.5ZM315.22 884.6L318.62 888L315.22 891.4L311.82 888ZM320.86 875.85L324.26 879.25L320.86 882.65L317.46 879.25ZM326.5 872.85L329.9 876.25L326.5 879.65L323.1 876.25ZM332.15 883.35L335.55 886.75L332.15 890.15L328.75 886.75ZM337.79 878.1L341.19 881.5L337.79 884.9L334.39 881.5ZM343.43 733.35L346.83 736.75L343.43 740.15L340.03 736.75ZM349.07 875.85L352.47 879.25L349.07 882.65L345.67 879.25ZM354.71 753.35L358.11 756.75L354.71 760.15L351.31 756.75ZM360.35 874.85L363.75 878.25L360.35 881.65L356.95 878.25ZM365.99 901.35L369.39 904.75L365.99 908.15L362.59 904.75ZM371.63 872.1L375.03 875.5L371.63 878.9L368.23 875.5ZM377.27 949.6L380.67 953L377.27 956.4L373.87 953ZM382.91 870.1L386.31 873.5L382.91 876.9L379.51 873.5ZM388.55 869.6L391.95 873L388.55 876.4L385.15 873ZM394.19 869.6L397.59 873L394.19 876.4L390.79 873ZM399.83 880.85L403.23 884.25L399.83 887.65L396.43 884.25ZM405.48 869.6L408.88 873L405.48 876.4L402.08 873ZM411.12 878.1L414.52 881.5L411.12 884.9L407.72 881.5ZM416.76 913.1L420.16 916.5L416.76 919.9L413.36 916.5ZM422.4 871.35L425.8 874.75L422.4 878.15L419 874.75ZM428.04 873.35L431.44 876.75L428.04 880.15L424.64 876.75ZM433.68 877.35L437.08 880.75L433.68 884.15L430.28 880.75ZM439.32 896.6L442.72 900L439.32 903.4L435.92 900ZM444.96 835.35L448.36 838.75L444.96 842.15L441.56 838.75ZM450.6 879.6L454 883L450.6 886.4L447.2 883ZM456.24 883.85L459.64 887.25L456.24 890.65L452.84 887.25ZM461.88 876.6L465.28 880L461.88 883.4L458.48 880ZM467.52 879.35L470.92 882.75L467.52 886.15L464.12 882.75ZM473.17 901.35L476.57 904.75L473.17 908.15L469.77 904.75ZM478.81 853.85L482.21 857.25L478.81 860.65L475.41 857.25ZM484.45 870.1L487.85 873.5L484.45 876.9L481.05 873.5ZM490.09 876.6L493.49 880L490.09 883.4L486.69 880ZM495.73 888.6L499.13 892L495.73 895.4L492.33 892ZM501.37 880.1L504.77 883.5L501.37 886.9L497.97 883.5ZM507.01 887.1L510.41 890.5L507.01 893.9L503.61 890.5ZM512.65 882.35L516.05 885.75L512.65 889.15L509.25 885.75ZM518.29 869.6L521.69 873L518.29 876.4L514.89 873ZM523.93 881.85L527.33 885.25L523.93 888.65L520.53 885.25ZM529.57 862.85L532.97 866.25L529.57 869.65L526.17 866.25ZM535.21 857.85L538.61 861.25L535.21 864.65L531.81 861.25ZM540.85 884.35L544.25 887.75L540.85 891.15L537.45 887.75ZM546.5 859.85L549.9 863.25L546.5 866.65L543.1 863.25ZM552.14 890.6L555.54 894L552.14 897.4L548.74 894ZM557.78 859.1L561.18 862.5L557.78 865.9L554.38 862.5ZM563.42 879.85L566.82 883.25L563.42 886.65L560.02 883.25ZM569.06 857.85L572.46 861.25L569.06 864.65L565.66 861.25ZM574.7 896.1L578.1 899.5L574.7 902.9L571.3 899.5ZM580.34 892.35L583.74 895.75L580.34 899.15L576.94 895.75ZM585.98 893.85L589.38 897.25L585.98 900.65L582.58 897.25ZM591.62 825.1L595.02 828.5L591.62 831.9L588.22 828.5ZM597.26 876.6L600.66 880L597.26 883.4L593.86 880ZM602.9 858.85L606.3 862.25L602.9 865.65L599.5 862.25ZM608.54 865.1L611.94 868.5L608.54 871.9L605.14 868.5ZM614.19 919.35L617.59 922.75L614.19 926.15L610.79 922.75ZM619.83 862.85L623.23 866.25L619.83 869.65L616.43 866.25ZM625.47 873.35L628.87 876.75L625.47 880.15L622.07 876.75ZM631.11 881.85L634.51 885.25L631.11 888.65L627.71 885.25ZM636.75 873.6L640.15 877L636.75 880.4L633.35 877ZM642.39 876.85L645.79 880.25L642.39 883.65L638.99 880.25ZM648.03 838.85L651.43 842.25L648.03 845.65L644.63 842.25ZM653.67 938.6L657.07 942L653.67 945.4L650.27 942ZM659.31 829.35L662.71 832.75L659.31 836.15L655.91 832.75ZM664.95 867.1L668.35 870.5L664.95 873.9L661.55 870.5ZM670.59 865.35L673.99 868.75L670.59 872.15L667.19 868.75ZM676.23 846.85L679.63 850.25L676.23 853.65L672.83 850.25ZM681.87 879.35L685.27 882.75L681.87 886.15L678.47 882.75ZM687.52 812.35L690.92 815.75L687.52 819.15L684.12 815.75ZM693.16 818.6L696.56 822L693.16 825.4L689.76 822ZM698.8 817.85L702.2 821.25L698.8 824.65L695.4 821.25ZM704.44 830.35L707.84 833.75L704.44 837.15L701.04 833.75ZM710.08 809.85L713.48 813.25L710.08 816.65L706.68 813.25ZM715.72 817.85L719.12 821.25L715.72 824.65L712.32 821.25ZM721.36 832.85L724.76 836.25L721.36 839.65L717.96 836.25ZM727 813.35L730.4 816.75L727 820.15L723.6 816.75ZM732.64 765.6L736.04 769L732.64 772.4L729.24 769ZM738.28 821.35L741.68 824.75L738.28 828.15L734.88 824.75ZM743.92 835.35L747.32 838.75L743.92 842.15L740.52 838.75ZM749.56 824.1L752.96 827.5L749.56 830.9L746.16 827.5ZM755.21 792.35L758.61 795.75L755.21 799.15L751.81 795.75ZM760.85 828.85L764.25 832.25L760.85 835.65L757.45 832.25ZM766.49 740.1L769.89 743.5L766.49 746.9L763.09 743.5ZM772.13 743.1L775.53 746.5L772.13 749.9L768.73 746.5ZM777.77 766.6L781.17 770L777.77 773.4L774.37 770ZM783.41 717.85L786.81 721.25L783.41 724.65L780.01 721.25ZM789.05 803.35L792.45 806.75L789.05 810.15L785.65 806.75ZM794.69 770.85L798.09 774.25L794.69 777.65L791.29 774.25ZM800.33 759.6L803.73 763L800.33 766.4L796.93 763ZM805.97 769.35L809.37 772.75L805.97 776.15L802.57 772.75ZM811.61 793.35L815.01 796.75L811.61 800.15L808.21 796.75ZM817.25 793.1L820.65 796.5L817.25 799.9L813.85 796.5ZM822.89 777.1L826.29 780.5L822.89 783.9L819.49 780.5ZM828.54 724.1L831.94 727.5L828.54 730.9L825.14 727.5ZM834.18 786.1L837.58 789.5L834.18 792.9L830.78 789.5ZM839.82 721.6L843.22 725L839.82 728.4L836.42 725ZM845.46 735.6L848.86 739L845.46 742.4L842.06 739ZM851.1 700.1L854.5 703.5L851.1 706.9L847.7 703.5ZM856.74 776.85L860.14 780.25L856.74 783.65L853.34 780.25ZM862.38 782.6L865.78 786L862.38 789.4L858.98 786ZM868.02 775.85L871.42 779.25L868.02 782.65L864.62 779.25ZM873.66 798.85L877.06 802.25L873.66 805.65L870.26 802.25ZM879.3 777.35L882.7 780.75L879.3 784.15L875.9 780.75ZM884.94 718.85L888.34 722.25L884.94 725.65L881.54 722.25ZM890.58 836.1L893.98 839.5L890.58 842.9L887.18 839.5ZM896.23 816.1L899.63 819.5L896.23 822.9L892.83 819.5ZM901.87 856.85L905.27 860.25L901.87 863.65L898.47 860.25ZM907.51 786.1L910.91 789.5L907.51 792.9L904.11 789.5ZM913.15 791.85L916.55 795.25L913.15 798.65L909.75 795.25ZM918.79 835.1L922.19 838.5L918.79 841.9L915.39 838.5ZM924.43 776.85L927.83 780.25L924.43 783.65L921.03 780.25ZM930.07 872.1L933.47 875.5L930.07 878.9L926.67 875.5ZM935.71 781.6L939.11 785L935.71 788.4L932.31 785ZM941.35 811.1L944.75 814.5L941.35 817.9L937.95 814.5ZM946.99 822.6L950.39 826L946.99 829.4L943.59 826ZM952.63 820.6L956.03 824L952.63 827.4L949.23 824ZM958.27 826.85L961.67 830.25L958.27 833.65L954.87 830.25ZM963.91 802.35L967.31 805.75L963.91 809.15L960.51 805.75ZM969.56 837.85L972.96 841.25L969.56 844.65L966.16 841.25ZM975.2 798.85L978.6 802.25L975.2 805.65L971.8 802.25ZM980.84 843.1L984.24 846.5L980.84 849.9L977.44 846.5ZM986.48 770.1L989.88 773.5L986.48 776.9L983.08 773.5ZM992.12 820.1L995.52 823.5L992.12 826.9L988.72 823.5ZM997.76 791.35L1001.16 794.75L997.76 798.15L994.36 794.75ZM1003.4 812.35L1006.8 815.75L1003.4 819.15L1000 815.75ZM1009.04 769.1L1012.44 772.5L1009.04 775.9L1005.64 772.5ZM1014.68 578.85L1018.08 582.25L1014.68 585.65L1011.28 582.25ZM1020.32 952.35L1023.72 955.75L1020.32 959.15L1016.92 955.75ZM1025.96 804.85L1029.36 808.25L1025.96 811.65L1022.56 808.25ZM1031.6 771.85L1035 775.25L1031.6 778.65L1028.2 775.25ZM1037.25 782.6L1040.65 786L1037.25 789.4L1033.85 786ZM1042.89 765.1L1046.29 768.5L1042.89 771.9L1039.49 768.5ZM1048.53 811.85L1051.93 815.25L1048.53 818.65L1045.13 815.25ZM1054.17 808.85L1057.57 812.25L1054.17 815.65L1050.77 812.25ZM1059.81 805.85L1063.21 809.25L1059.81 812.65L1056.41 809.25ZM1065.45 805.6L1068.85 809L1065.45 812.4L1062.05 809ZM1071.09 808.1L1074.49 811.5L1071.09 814.9L1067.69 811.5ZM1076.73 809.1L1080.13 812.5L1076.73 815.9L1073.33 812.5ZM1082.37 809.1L1085.77 812.5L1082.37 815.9L1078.97 812.5ZM1088.01 796.85L1091.41 800.25L1088.01 803.65L1084.61 800.25ZM1093.65 810.85L1097.05 814.25L1093.65 817.65L1090.25 814.25ZM1099.29 813.85L1102.69 817.25L1099.29 820.65L1095.89 817.25ZM1104.93 811.35L1108.33 814.75L1104.93 818.15L1101.53 814.75ZM1110.58 762.35L1113.98 765.75L1110.58 769.15L1107.18 765.75ZM1116.22 761.6L1119.62 765L1116.22 768.4L1112.82 765ZM1121.86 794.6L1125.26 798L1121.86 801.4L1118.46 798ZM1127.5 768.6L1130.9 772L1127.5 775.4L1124.1 772ZM1133.14 774.1L1136.54 777.5L1133.14 780.9L1129.74 777.5ZM1138.78 755.85L1142.18 759.25L1138.78 762.65L1135.38 759.25ZM1144.42 712.35L1147.82 715.75L1144.42 719.15L1141.02 715.75ZM1150.06 729.1L1153.46 732.5L1150.06 735.9L1146.66 732.5ZM1189.55 769.1L1192.95 772.5L1189.55 775.9L1186.15 772.5ZM1195.19 769.6L1198.59 773L1195.19 776.4L1191.79 773ZM1200.83 740.35L1204.23 743.75L1200.83 747.15L1197.43 743.75ZM1206.47 686.6L1209.87 690L1206.47 693.4L1203.07 690ZM1212.11 751.6L1215.51 755L1212.11 758.4L1208.71 755ZM1217.75 720.35L1221.15 723.75L1217.75 727.15L1214.35 723.75ZM1302.36 876.85L1305.76 880.25L1302.36 883.65L1298.96 880.25ZM1308 874.1L1311.4 877.5L1308 880.9L1304.6 877.5ZM1313.64 874.6L1317.04 878L1313.64 881.4L1310.24 878ZM1319.29 873.35L1322.69 876.75L1319.29 880.15L1315.89 876.75ZM1324.93 866.85L1328.33 870.25L1324.93 873.65L1321.53 870.25ZM1330.57 871.6L1333.97 875L1330.57 878.4L1327.17 875ZM1336.21 907.85L1339.61 911.25L1336.21 914.65L1332.81 911.25ZM1341.85 852.35L1345.25 855.75L1341.85 859.15L1338.45 855.75ZM1347.49 873.6L1350.89 877L1347.49 880.4L1344.09 877ZM1353.13 878.6L1356.53 882L1353.13 885.4L1349.73 882ZM1358.77 876.85L1362.17 880.25L1358.77 883.65L1355.37 880.25ZM1364.41 879.1L1367.81 882.5L1364.41 885.9L1361.01 882.5ZM1370.05 878.1L1373.45 881.5L1370.05 884.9L1366.65 881.5ZM1375.69 899.35L1379.09 902.75L1375.69 906.15L1372.29 902.75Z" fill="#000080"/>
<text class="tk" x="70.1" y="1027.1" text-anchor="end" textLength="9.2" lengthAdjust="spacingAndGlyphs">0</text>
<text class="tk" x="70.1" y="1004.1" text-anchor="end" textLength="27.6" lengthAdjust="spacingAndGlyphs">200</text>
<text class="tk" x="70.1" y="981.1" text-anchor="end" textLength="27.6" lengthAdjust="spacingAndGlyphs">400</text>
<text class="tk" x="70.1" y="958.1" text-anchor="end" textLength="27.6" lengthAdjust="spacingAndGlyphs">600</text>
<text class="tk" x="70.1" y="935.1" text-anchor="end" textLength="27.6" lengthAdjust="spacingAndGlyphs">800</text>
<text class="tk" x="70.1" y="912.1" text-anchor="end" textLength="36.8" lengthAdjust="spacingAndGlyphs">1000</text>
<text class="tk" x="70.1" y="889.1" text-anchor="end" textLength="36.8" lengthAdjust="spacingAndGlyphs">1200</text>
<text class="tk" x="70.1" y="866.1" text-anchor="end" textLength="36.8" lengthAdjust="spacingAndGlyphs">1400</text>
<text class="tk" x="70.1" y="843.1" text-anchor="end" textLength="36.8" lengthAdjust="spacingAndGlyphs">1600</text>
<text class="tk" x="70.1" y="820.1" text-anchor="end" textLength="36.8" lengthAdjust="spacingAndGlyphs">1800</text>
<text class="tk" x="70.1" y="797.1" text-anchor="end" textLength="36.8" lengthAdjust="spacingAndGlyphs">2000</text>
<text class="tk" x="70.1" y="774.1" text-anchor="end" textLength="36.8" lengthAdjust="spacingAndGlyphs">2200</text>
<text class="tk" x="70.1" y="751.1" text-anchor="end" textLength="36.8" lengthAdjust="spacingAndGlyphs">2400</text>
<text class="tk" x="70.1" y="728.1" text-anchor="end" textLength="36.8" lengthAdjust="spacingAndGlyphs">2600</text>
<text class="tk" x="70.1" y="705.1" text-anchor="end" textLength="36.8" lengthAdjust="spacingAndGlyphs">2800</text>
<text class="tk" x="70.1" y="682.1" text-anchor="end" textLength="36.8" lengthAdjust="spacingAndGlyphs">3000</text>
<text class="tk" x="70.1" y="659.1" text-anchor="end" textLength="36.8" lengthAdjust="spacingAndGlyphs">3200</text>
<text class="tk" x="70.1" y="636.1" text-anchor="end" textLength="36.8" lengthAdjust="spacingAndGlyphs">3400</text>
<text class="tk" x="70.1" y="613.1" text-anchor="end" textLength="36.8" lengthAdjust="spacingAndGlyphs">3600</text>
<text class="tk" x="70.1" y="590.1" text-anchor="end" textLength="36.8" lengthAdjust="spacingAndGlyphs">3800</text>
<text class="tk" x="213.99" y="1057" text-anchor="middle" textLength="62.4" lengthAdjust="spacingAndGlyphs">2022-12</text>
<text class="tk" x="388.85" y="1057" text-anchor="middle" textLength="62.4" lengthAdjust="spacingAndGlyphs">2023-01</text>
<text class="tk" x="563.72" y="1057" text-anchor="middle" textLength="62.4" lengthAdjust="spacingAndGlyphs">2023-02</text>
<text class="tk" x="721.66" y="1057" text-anchor="middle" textLength="62.4" lengthAdjust="spacingAndGlyphs">2023-03</text>
<text class="tk" x="896.53" y="1057" text-anchor="middle" textLength="62.4" lengthAdjust="spacingAndGlyphs">2023-04</text>
<text class="tk" x="1065.75" y="1057" text-anchor="middle" textLength="62.4" lengthAdjust="spacingAndGlyphs">2023-05</text>
<text class="tk" x="1240.61" y="1057" text-anchor="middle" textLength="62.4" lengthAdjust="spacingAndGlyphs">2023-06</text>
<text class="tk" x="1409.84" y="1057" text-anchor="middle" textLength="62.4" lengthAdjust="spacingAndGlyphs">2023-07</text>
<text class="tk" x="1584.7" y="1057" text-anchor="middle" textLength="62.4" lengthAdjust="spacingAndGlyphs">2023-08</text>
<text class="tk" x="1759.57" y="1057" text-anchor="middle" textLength="62.4" lengthAdjust="spacingAndGlyphs">2023-09</text>
<text class="lg" x="1764.3" y="937" text-anchor="end" textLength="148.5" lengthAdjust="spacingAndGlyphs">Consumed energy</text>
<path d="M1814.3 926.6L1817.7 930L1814.3 933.4L1810.9 930Z" fill="#000080"/>
<text class="lg" x="1764.3" y="967" text-anchor="end" textLength="82.3" lengthAdjust="spacingAndGlyphs">0 kg/week</text>
<path d="M1778.8 960H1850" stroke="#111" stroke-width="1.25"/>
<text class="lg" x="1764.3" y="997" text-anchor="end" textLength="95" lengthAdjust="spacingAndGlyphs">1.0 kg/week</text>
<path d="M1778.8 990H1850" stroke="#228B22" stroke-width="2.2"/>
</svg></body></html>
